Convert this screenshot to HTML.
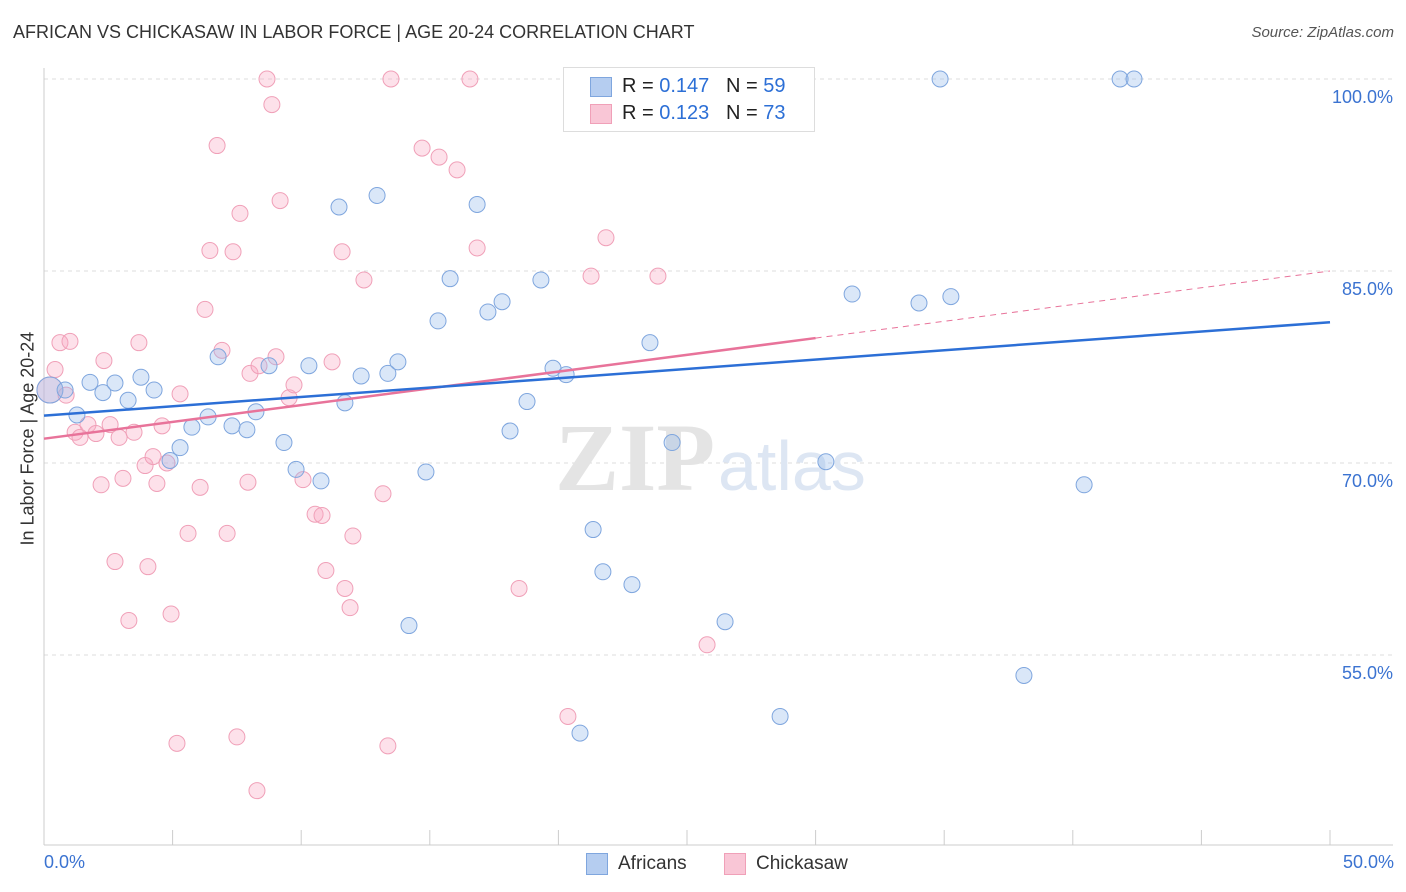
<!DOCTYPE html>
<html><head><meta charset="utf-8"><style>
body{margin:0;background:#fff;font-family:"Liberation Sans",sans-serif;}
#wrap{position:relative;width:1406px;height:892px;overflow:hidden;}
.t{position:absolute;white-space:nowrap;}
</style></head><body>
<div id="wrap">
<div class="t" style="left:13px;top:22px;font-size:18px;color:#333;">AFRICAN VS CHICKASAW IN LABOR FORCE | AGE 20-24 CORRELATION CHART</div>
<div class="t" style="right:12px;top:24px;font-size:15px;color:#555;font-style:italic;">Source: ZipAtlas.com</div>
<svg id="svg" width="1406" height="892" style="position:absolute;left:0;top:0"></svg>
</div>
<script>
const blueX=[0.23,0.82,1.28,1.79,2.29,2.76,3.27,3.77,4.28,5.29,4.90,5.75,6.38,6.77,7.31,7.89,8.24,8.75,9.33,9.80,10.30,10.77,11.47,11.70,12.33,12.95,13.37,13.76,14.19,14.85,15.32,15.79,16.84,17.26,17.81,18.12,18.78,19.32,19.79,20.30,20.84,21.35,21.73,22.86,23.56,24.42,26.48,28.62,30.40,31.42,34.02,35.26,34.84,38.10,40.44,41.84,42.38];
const blueY=[75.7,75.7,73.75,76.3,75.5,76.25,74.9,76.7,75.7,71.2,70.2,72.8,73.6,78.3,72.9,72.6,74.0,77.6,71.6,69.5,77.6,68.6,90.0,74.7,76.8,90.9,77.0,77.9,57.3,69.3,81.1,84.4,90.2,81.8,82.6,72.5,74.8,84.3,77.4,76.9,48.9,64.8,61.5,60.5,79.4,71.6,57.6,50.2,70.1,83.2,82.5,83.0,100,53.4,68.3,100,100];
const pinkX=[0.23,0.43,0.62,1.01,0.86,1.21,1.40,1.71,2.02,2.22,2.33,2.57,2.76,2.92,3.07,3.30,3.50,3.69,3.93,4.04,4.24,4.39,4.59,4.78,4.94,5.17,5.29,5.60,6.07,6.26,6.45,6.73,6.92,7.12,7.35,7.50,7.62,8.01,7.93,8.28,8.36,8.67,8.86,9.02,9.18,9.53,9.72,10.07,10.54,10.81,10.96,11.20,11.59,11.70,11.90,12.01,12.44,13.18,13.37,13.49,14.70,15.36,16.06,16.56,16.84,18.47,20.37,21.27,21.85,23.87,25.78];
const pinkY=[75.7,77.3,79.4,79.5,75.3,72.4,72.0,73.0,72.3,68.3,78.0,73.0,62.3,72.0,68.8,57.7,72.4,79.4,69.8,61.9,70.5,68.4,72.9,70.0,58.2,48.1,75.4,64.5,68.1,82.0,86.6,94.8,78.8,64.5,86.5,48.6,89.5,77.0,68.5,44.4,77.6,100,98.0,78.3,90.5,75.1,76.1,68.7,66.0,65.9,61.6,77.9,86.5,60.2,58.7,64.3,84.3,67.6,47.9,100,94.6,93.9,92.9,100,86.8,60.2,50.2,84.6,87.6,84.6,55.8];
const yTicks=[100,85,70,55];
const yTickLabels=["100.0%","85.0%","70.0%","55.0%"];
const blueTrend=[73.7,81.0];
const pinkTrend=[71.9,85.0];
const pinkSolidEnd=30;

const X=v=>44+v*25.72, Y=v=>79+(100-v)*12.8;
const svg=document.getElementById('svg'), NS='http://www.w3.org/2000/svg';
function mk(t,a){const e=document.createElementNS(NS,t);for(const k in a)e.setAttribute(k,a[k]);svg.appendChild(e);return e;}
yTicks.forEach((v,i)=>{
 const g=mk('line',{x1:44,x2:1393,y1:Y(v),y2:Y(v),stroke:'#ddd','stroke-dasharray':'4,4'});
 
 
 const t=mk('text',{x:1393,y:Y(v)+24,'text-anchor':'end','font-size':18,fill:'#3b73d1','font-family':'Liberation Sans'});
 t.textContent=yTickLabels[i];
 
 
});
let ax=mk('line',{x1:44,x2:44,y1:68,y2:845,stroke:'#ccc'});


ax=mk('line',{x1:44,x2:1393,y1:845,y2:845,stroke:'#ccc'});


for(let i=1;i<=10;i++){const tk=mk('line',{x1:X(i*5),x2:X(i*5),y1:830,y2:845,stroke:'#ccc'});
 
 }
let wm=mk('text',{x:555,y:490,'font-size':96,fill:'#e4e4e4','font-family':'Liberation Serif','font-weight':'bold'});wm.textContent='ZIP';


wm=mk('text',{x:718,y:490,'font-size':70,fill:'#dde6f3','font-family':'Liberation Sans'});wm.textContent='atlas';


pinkX.forEach((x,i)=>{const c=mk('circle',{cx:X(x),cy:Y(pinkY[i]),r:i==0?13:8,fill:'rgba(248,170,195,0.35)',stroke:'#f0a0b8','stroke-width':1});
 
 });
blueX.forEach((x,i)=>{const c=mk('circle',{cx:X(x),cy:Y(blueY[i]),r:i==0?13:8,fill:'rgba(150,185,235,0.35)',stroke:'#7fa6de','stroke-width':1});
 
 });
const ps=pinkTrend[0]+(pinkTrend[1]-pinkTrend[0])*pinkSolidEnd/50;
let l=mk('line',{x1:X(0),y1:Y(pinkTrend[0]),x2:X(pinkSolidEnd),y2:Y(ps),stroke:'#e8739a','stroke-width':2.5});


l=mk('line',{x1:X(pinkSolidEnd),y1:Y(ps),x2:X(50),y2:Y(pinkTrend[1]),stroke:'#e8739a','stroke-width':1,'stroke-dasharray':'6,5'});


l=mk('line',{x1:X(0),y1:Y(blueTrend[0]),x2:X(50),y2:Y(blueTrend[1]),stroke:'#2c6fd6','stroke-width':2.5});


</script>
<div class="t" style="left:563px;top:67px;width:250px;height:63px;border:1px solid #ddd;background:#fff;font-size:20px;color:#222;">
 <div style="position:absolute;left:26px;top:9px;width:20px;height:18px;background:#b5cdf0;border:1px solid #7fa6de"></div>
 <div class="t" style="left:58px;top:7px">R = <span style="color:#2c6fd6">0.147</span>&nbsp;&nbsp;&nbsp;N = <span style="color:#2c6fd6">59</span></div>
 <div style="position:absolute;left:26px;top:36px;width:20px;height:18px;background:#f9c6d6;border:1px solid #f0a0b8"></div>
 <div class="t" style="left:58px;top:34px">R = <span style="color:#2c6fd6">0.123</span>&nbsp;&nbsp;&nbsp;N = <span style="color:#2c6fd6">73</span></div>
</div>
<div class="t" style="left:44px;top:852px;font-size:18px;color:#3b73d1">0.0%</div>
<div class="t" style="right:12px;top:852px;font-size:18px;color:#3b73d1">50.0%</div>
<div class="t" style="left:586px;top:853px;width:20px;height:20px;background:#b5cdf0;border:1px solid #7fa6de"></div>
<div class="t" style="left:618px;top:853px;font-size:19px;color:#333">Africans</div>
<div class="t" style="left:724px;top:853px;width:20px;height:20px;background:#f9c6d6;border:1px solid #f0a0b8"></div>
<div class="t" style="left:756px;top:853px;font-size:19px;color:#333">Chickasaw</div>
<div class="t" style="left:-62px;top:445px;transform:rotate(-90deg);font-size:18px;color:#333;width:180px;text-align:center">In Labor Force | Age 20-24</div>
</body></html>
